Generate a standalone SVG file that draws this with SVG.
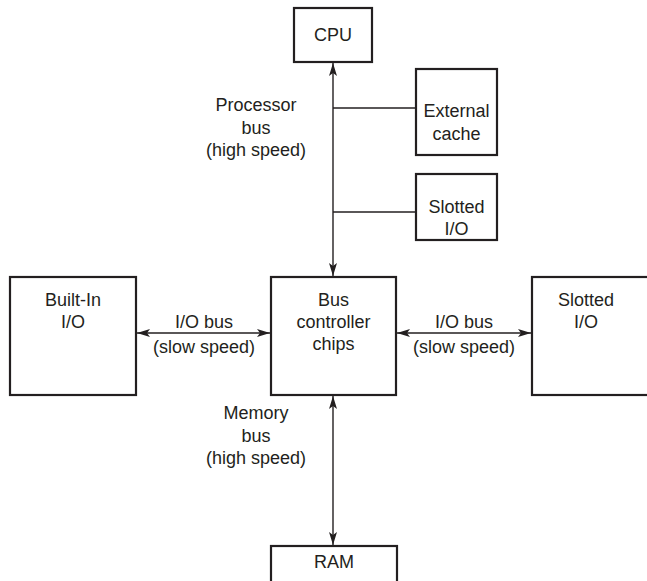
<svg xmlns="http://www.w3.org/2000/svg" width="647" height="581" viewBox="0 0 647 581">
<style>
.box{fill:#fff;stroke:#231f20;stroke-width:2.2}
.ln{fill:none;stroke:#231f20;stroke-width:1.4}
text{font-family:"Liberation Sans",Arial,sans-serif;font-size:18px;fill:#231f20;text-anchor:middle}
</style>
<defs>
<marker id="ah" viewBox="0 0 13 8" refX="13" refY="4" markerWidth="13" markerHeight="8" markerUnits="userSpaceOnUse" orient="auto-start-reverse">
<path d="M0,0 L13,4 L0,8 L3,4 Z" fill="#231f20"/>
</marker>
</defs>
<rect width="647" height="581" fill="#fff"/>
<g id="connectors">
<line class="ln" x1="333" y1="276" x2="333" y2="63" marker-start="url(#ah)" marker-end="url(#ah)"/>
<line class="ln" x1="333" y1="108" x2="416" y2="108"/>
<line class="ln" x1="333" y1="212" x2="416" y2="212"/>
<line class="ln" x1="137" y1="333" x2="270" y2="333" marker-start="url(#ah)" marker-end="url(#ah)"/>
<line class="ln" x1="397" y1="333" x2="531" y2="333" marker-start="url(#ah)" marker-end="url(#ah)"/>
<line class="ln" x1="333" y1="396" x2="333" y2="545" marker-start="url(#ah)" marker-end="url(#ah)"/>
<text x="256" y="111">Processor</text>
<text x="256" y="134">bus</text>
<text x="256" y="156">(high speed)</text>
<text x="204" y="328">I/O bus</text>
<text x="204" y="353">(slow speed)</text>
<text x="464" y="328">I/O bus</text>
<text x="464" y="353">(slow speed)</text>
<text x="256" y="419">Memory</text>
<text x="256" y="442">bus</text>
<text x="256" y="464">(high speed)</text>
</g>
<g id="cpu"><rect class="box" x="294" y="8" width="78" height="54"/><text x="333" y="41">CPU</text></g>
<g id="cache"><rect class="box" x="416" y="69" width="81" height="86"/><text x="456.5" y="117">External</text><text x="456.5" y="140">cache</text></g>
<g id="slotted-top"><rect class="box" x="416" y="174" width="81" height="66"/><text x="456.5" y="213">Slotted</text><text x="456.5" y="235">I/O</text></g>
<g id="builtin"><rect class="box" x="10" y="277" width="126" height="118"/><text x="73" y="306">Built-In</text><text x="73" y="328">I/O</text></g>
<g id="busctl"><rect class="box" x="271" y="277" width="125" height="118"/><text x="333.5" y="306">Bus</text><text x="333.5" y="328">controller</text><text x="333.5" y="350">chips</text></g>
<g id="slotted-right"><rect class="box" x="532" y="277" width="130" height="118"/><text x="586" y="306">Slotted</text><text x="586" y="328">I/O</text></g>
<g id="ram"><rect class="box" x="271" y="546" width="126" height="50"/><text x="334" y="568">RAM</text></g>
</svg>
